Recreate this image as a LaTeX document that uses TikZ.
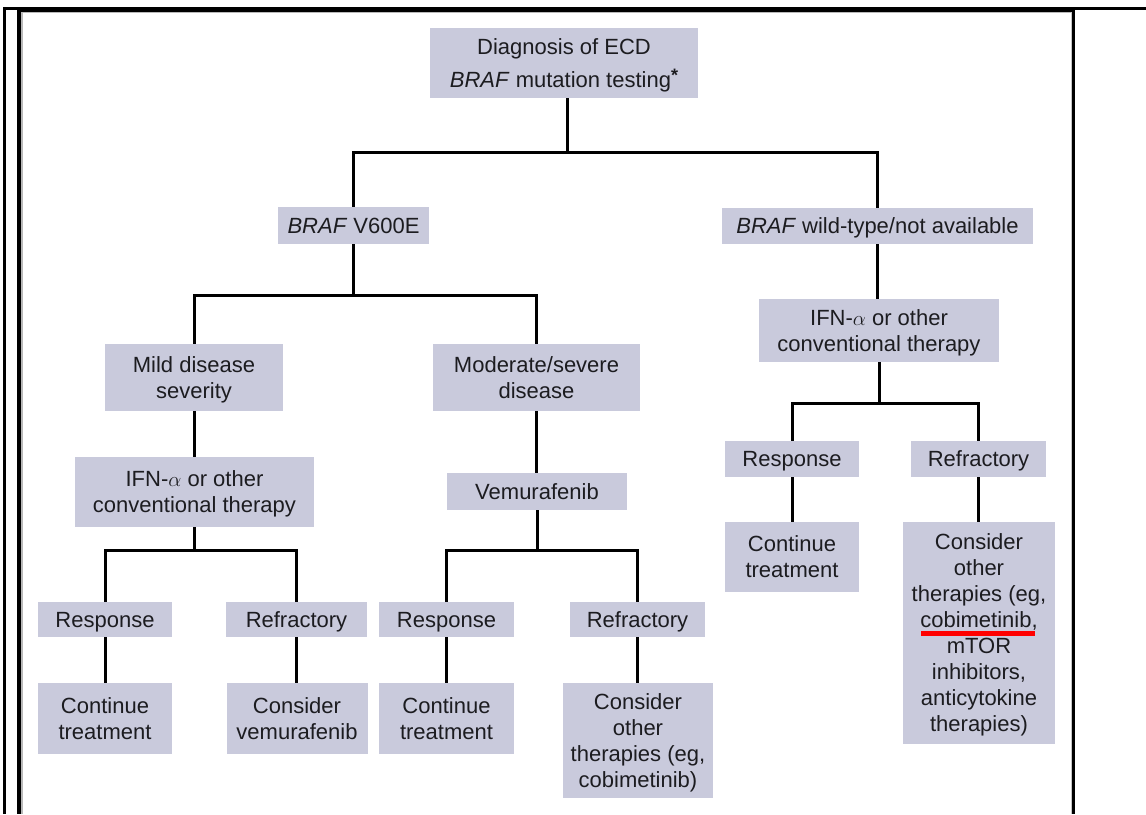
\documentclass[tikz,border=0pt]{standalone}
\usepackage{fontspec}
\setmainfont{Liberation Sans}
\definecolor{boxfill}{RGB}{201,202,220}
\definecolor{txt}{RGB}{28,28,32}
\tikzset{
  bx/.style={fill=boxfill, text=txt, align=center, inner sep=0pt, text depth=0pt,
    font=\fontsize{22}{26}\selectfont},
  ln/.style={draw=black, line width=3pt},
}
\begin{document}
\begin{tikzpicture}[x=1pt,y=-1pt]
\useasboundingbox (0,0) rectangle (1146,814);
\fill[white] (0,0) rectangle (1146,814);
% frame
\fill[black] (3,7) rectangle (5.5,814);
\fill[black] (3,7) rectangle (1146,9.5);
\fill[black] (17,7) rectangle (1075,11.5);
\fill[black] (17,7) rectangle (21,814);
\fill[black] (1072,7) rectangle (1075,814);
\fill[gray!55] (21,11.5) rectangle (22.5,814);
\fill[gray!55] (21,11.5) rectangle (1072,12.5);
\fill[gray!45] (1070.5,11.5) rectangle (1072,814);

% nodes
\node[bx, minimum width=268pt, minimum height=70pt] (top) at (564,63)
  {Diagnosis of ECD\\[7pt]\textit{BRAF} mutation testing\raisebox{6pt}{\fontsize{18}{18}\selectfont\textbf{*}}};
\node[bx, minimum width=151pt, minimum height=37pt] (v600) at (353.5,225.5)
  {\textit{BRAF} V600E};
\node[bx, minimum width=311pt, minimum height=36pt] (wild) at (877.5,226)
  {\textit{BRAF} wild-type/not available};
\node[bx, minimum width=178pt, minimum height=67pt] (mild) at (194,377.5)
  {Mild disease\\severity};
\node[bx, minimum width=207pt, minimum height=67pt] (moder) at (536.5,377.5)
  {Moderate/severe\\disease};
\node[bx, minimum width=240pt, minimum height=63pt] (ifnR) at (879,330.5)
  {IFN-$\alpha$ or other\\conventional therapy};
\node[bx, minimum width=134pt, minimum height=36pt] (respR) at (792,459)
  {Response};
\node[bx, minimum width=135pt, minimum height=36pt] (refrR) at (978.5,459)
  {Refractory};
\node[bx, minimum width=134pt, minimum height=70pt] (contR) at (792,557)
  {Continue\\treatment};
\node[bx, minimum width=152pt, minimum height=222pt] (consR) at (979,633)
  {Consider\\other\\therapies (eg,\\cobimetinib,\\mTOR\\inhibitors,\\anticytokine\\therapies)};
\node[bx, minimum width=239pt, minimum height=70pt] (ifnL) at (194.5,492)
  {IFN-$\alpha$ or other\\conventional therapy};
\node[bx, minimum width=180pt, minimum height=37pt] (vemu) at (537,491.5)
  {Vemurafenib};
\node[bx, minimum width=134pt, minimum height=35pt] (resp1) at (105,619.5)
  {Response};
\node[bx, minimum width=141pt, minimum height=35pt] (refr1) at (296.5,619.5)
  {Refractory};
\node[bx, minimum width=134pt, minimum height=71pt] (cont1) at (105,718.5)
  {Continue\\treatment};
\node[bx, minimum width=141pt, minimum height=71pt] (consV) at (297,718.5)
  {Consider\\vemurafenib};
\node[bx, minimum width=135pt, minimum height=35pt] (resp2) at (446.5,619.5)
  {Response};
\node[bx, minimum width=135pt, minimum height=35pt] (refr2) at (637.5,619.5)
  {Refractory};
\node[bx, minimum width=135pt, minimum height=71pt] (cont2) at (446.5,718.5)
  {Continue\\treatment};
\node[bx, minimum width=150pt, minimum height=115pt] (consO) at (638,740.5)
  {Consider\\other\\therapies (eg,\\cobimetinib)};

% junction coordinates
\coordinate (j1) at (567,152);
\coordinate (j2) at (353.5,295);
\coordinate (j3) at (194,550);
\coordinate (j4) at (537,550);
\coordinate (j5) at (879,403);

% connectors
\draw[ln] (top.south -| j1) -- (j1);
\draw[ln] (v600.north) -- (v600.north |- j1) -- (wild.north |- j1) -- (wild.north);
\draw[ln] (v600.south) -- (j2);
\draw[ln] (mild.north) -- (mild.north |- j2) -- (moder.north |- j2) -- (moder.north);
\draw[ln] (mild.south) -- (mild.south |- ifnL.north);
\draw[ln] (ifnL.south -| j3) -- (j3);
\draw[ln] (resp1.north) -- (resp1.north |- j3) -- (refr1.north |- j3) -- (refr1.north);
\draw[ln] (resp1.south) -- (cont1.north);
\draw[ln] (refr1.south) -- (refr1.south |- consV.north);
\draw[ln] (moder.south) -- (moder.south |- vemu.north);
\draw[ln] (vemu.south) -- (j4);
\draw[ln] (resp2.north) -- (resp2.north |- j4) -- (refr2.north |- j4) -- (refr2.north);
\draw[ln] (resp2.south) -- (cont2.north);
\draw[ln] (refr2.south) -- (refr2.south |- consO.north);
\draw[ln] (wild.south) -- (wild.south |- ifnR.north);
\draw[ln] (ifnR.south -| j5) -- (j5);
\draw[ln] (respR.north) -- (respR.north |- j5) -- (refrR.north |- j5) -- (refrR.north);
\draw[ln] (respR.south) -- (contR.north);
\draw[ln] (refrR.south) -- (refrR.south |- consR.north);

% red underline
\draw[red, line width=4.5pt] (921,633.5) -- (1035,633.5);
\end{tikzpicture}
\end{document}
